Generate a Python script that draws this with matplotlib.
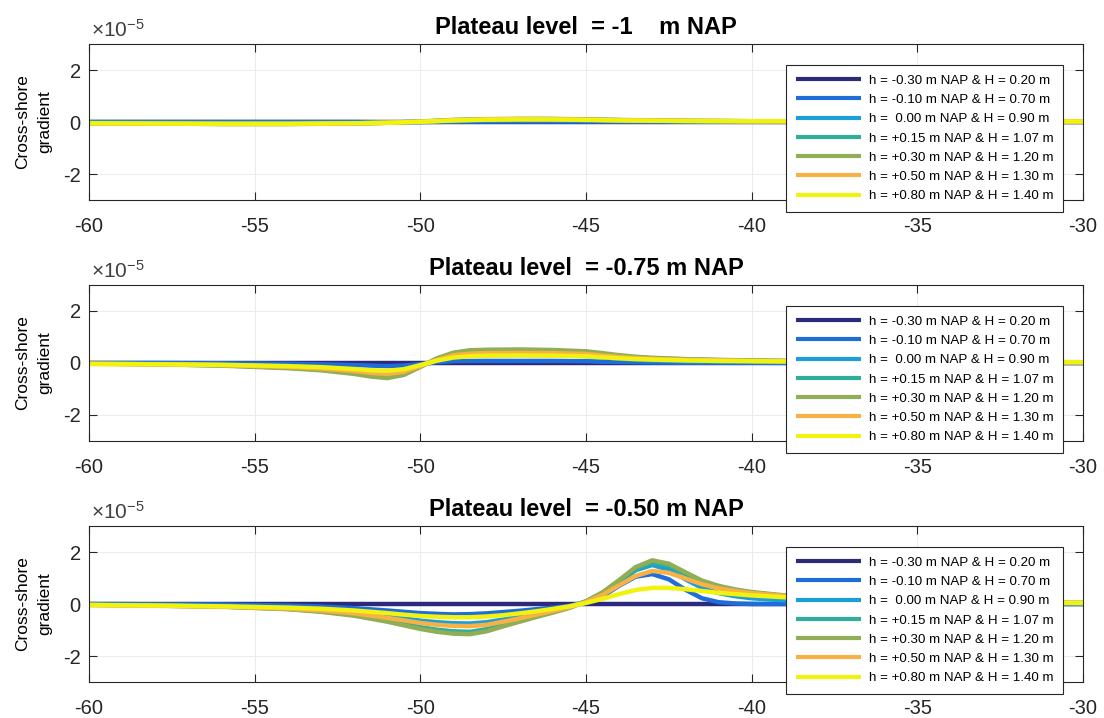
import matplotlib
matplotlib.use("Agg")
import matplotlib.pyplot as plt

plt.rcParams['font.family'] = ['Liberation Sans', 'DejaVu Sans']
plt.rcParams['mathtext.fontset'] = 'custom'
plt.rcParams['mathtext.rm'] = 'Liberation Sans'
plt.rcParams['mathtext.it'] = 'Liberation Sans:italic'
plt.rcParams['mathtext.bf'] = 'Liberation Sans:bold'

labels = ["h = -0.30 m NAP & H = 0.20 m",
          "h = -0.10 m NAP & H = 0.70 m",
          "h =  0.00 m NAP & H = 0.90 m",
          "h = +0.15 m NAP & H = 1.07 m",
          "h = +0.30 m NAP & H = 1.20 m",
          "h = +0.50 m NAP & H = 1.30 m",
          "h = +0.80 m NAP & H = 1.40 m"]
colors = ['#2b2a7c', '#1f6ed8', '#1c9fd6', '#2fae98', '#8fae55', '#f7b145', '#f2f20f']
titles = ["Plateau level  = -1    m NAP",
          "Plateau level  = -0.75 m NAP",
          "Plateau level  = -0.50 m NAP"]
xticks = [-60, -55, -50, -45, -40, -35, -30]
yticks = [-2, 0, 2]

# Panel 1 (plateau -1 m NAP), values in 1e-5
x1 = [-60, -58, -56, -54, -52, -51, -50, -49, -48, -47, -46, -45, -44, -43, -42, -40, -38, -35, -30]
p1_navy = [0] * 19
p1_blue = [0, 0, 0, 0, 0, -0.01, 0, 0.01, 0.02, 0.02, 0.02, 0.02, 0.01, 0.01, 0.01, 0.01, 0, 0, 0]
p1_lblue = [-0.02, -0.03, -0.04, -0.04, -0.03, -0.02, 0, 0.04, 0.06, 0.07, 0.07, 0.06, 0.05, 0.04, 0.03, 0.02, 0.02, 0.01, 0.01]
p1_teal = [-0.04, -0.05, -0.07, -0.07, -0.05, -0.03, 0.01, 0.07, 0.10, 0.11, 0.11, 0.09, 0.07, 0.05, 0.04, 0.03, 0.02, 0.02, 0.01]
p1_green = [-0.05, -0.06, -0.08, -0.08, -0.06, -0.03, 0.02, 0.08, 0.11, 0.12, 0.12, 0.10, 0.08, 0.06, 0.05, 0.03, 0.03, 0.02, 0.02]
p1_orange = [-0.05, -0.06, -0.07, -0.07, -0.05, -0.03, 0.01, 0.07, 0.10, 0.11, 0.10, 0.09, 0.07, 0.05, 0.04, 0.03, 0.03, 0.02, 0.02]
p1_yellow = [-0.05, -0.06, -0.07, -0.07, -0.05, -0.03, 0.01, 0.06, 0.09, 0.10, 0.10, 0.08, 0.06, 0.05, 0.04, 0.03, 0.03, 0.02, 0.02]

# Panel 2 (plateau -0.75 m NAP)
x2 = [-60, -58, -56, -54, -53, -52, -51.5, -51, -50.5, -50, -49.5, -49, -48.5, -48, -47, -46, -45,
      -44.5, -44, -43.5, -43, -42, -41, -40, -38, -35, -30]
p2_navy = [0] * 27
p2_blue = [0, 0, -0.01, -0.03, -0.05, -0.08, -0.10, -0.12, -0.10, -0.04, 0.03, 0.07, 0.08, 0.08, 0.08, 0.08, 0.07,
           0.05, 0.04, 0.03, 0.02, 0.01, 0.01, 0.01, 0, 0, 0]
p2_lblue = [-0.01, -0.03, -0.06, -0.12, -0.17, -0.25, -0.30, -0.33, -0.27, -0.10, 0.10, 0.24, 0.29, 0.30, 0.31, 0.30, 0.27,
            0.22, 0.17, 0.13, 0.10, 0.07, 0.05, 0.04, 0.03, 0.02, 0.02]
p2_teal = [-0.02, -0.05, -0.09, -0.18, -0.25, -0.38, -0.47, -0.52, -0.42, -0.14, 0.16, 0.36, 0.44, 0.46, 0.47, 0.45, 0.41,
           0.34, 0.27, 0.22, 0.18, 0.14, 0.11, 0.09, 0.06, 0.04, 0.03]
p2_green = [-0.02, -0.05, -0.10, -0.20, -0.28, -0.42, -0.52, -0.58, -0.46, -0.15, 0.18, 0.40, 0.49, 0.51, 0.52, 0.50, 0.45,
            0.38, 0.30, 0.24, 0.20, 0.15, 0.12, 0.10, 0.07, 0.04, 0.03]
p2_orange = [-0.03, -0.05, -0.08, -0.15, -0.21, -0.31, -0.38, -0.42, -0.34, -0.12, 0.12, 0.30, 0.36, 0.38, 0.39, 0.38, 0.35,
             0.29, 0.23, 0.19, 0.16, 0.12, 0.10, 0.08, 0.06, 0.04, 0.03]
p2_yellow = [-0.04, -0.05, -0.07, -0.12, -0.16, -0.23, -0.28, -0.30, -0.24, -0.08, 0.09, 0.21, 0.26, 0.28, 0.29, 0.28, 0.26,
             0.22, 0.18, 0.15, 0.13, 0.10, 0.08, 0.07, 0.05, 0.04, 0.03]

# Panel 3 (plateau -0.50 m NAP)
x3 = [-60, -58, -56, -54, -53, -52, -51, -50.5, -50, -49.5, -49, -48.5, -48, -47.5, -47, -46.5, -46, -45.5, -45,
      -44.5, -44, -43.5, -43, -42.5, -42, -41.5, -41, -40.5, -40, -39, -38, -36, -34, -32, -30]
p3_navy = [0] * 35
p3_blue = [0, -0.01, -0.02, -0.06, -0.10, -0.16, -0.25, -0.30, -0.35, -0.38, -0.40, -0.39, -0.36, -0.31, -0.26, -0.20, -0.14, -0.07, 0.05,
           0.30, 0.70, 1.05, 1.15, 0.95, 0.55, 0.22, 0.07, 0.02, 0, 0, 0, 0, 0, 0, 0]
p3_lblue = [-0.02, -0.04, -0.07, -0.14, -0.20, -0.30, -0.46, -0.55, -0.64, -0.70, -0.74, -0.75, -0.70, -0.60, -0.48, -0.36, -0.24, -0.10, 0.10,
            0.42, 0.85, 1.30, 1.50, 1.32, 0.95, 0.62, 0.42, 0.30, 0.22, 0.14, 0.10, 0.06, 0.04, 0.03, 0.02]
p3_teal = [-0.03, -0.06, -0.10, -0.19, -0.28, -0.42, -0.63, -0.76, -0.89, -0.99, -1.05, -1.07, -0.97, -0.80, -0.63, -0.46, -0.30, -0.13, 0.10,
           0.43, 0.88, 1.35, 1.60, 1.47, 1.15, 0.85, 0.66, 0.53, 0.44, 0.31, 0.23, 0.12, 0.08, 0.05, 0.04]
p3_green = [-0.03, -0.06, -0.10, -0.20, -0.30, -0.45, -0.68, -0.82, -0.96, -1.07, -1.14, -1.16, -1.05, -0.86, -0.68, -0.50, -0.33, -0.15, 0.10,
            0.45, 0.92, 1.42, 1.68, 1.55, 1.22, 0.90, 0.70, 0.56, 0.46, 0.33, 0.24, 0.13, 0.08, 0.05, 0.04]
p3_orange = [-0.04, -0.07, -0.10, -0.18, -0.25, -0.36, -0.53, -0.63, -0.73, -0.80, -0.84, -0.85, -0.80, -0.68, -0.55, -0.41, -0.27, -0.12, 0.08,
             0.35, 0.72, 1.08, 1.27, 1.20, 0.98, 0.76, 0.60, 0.50, 0.42, 0.31, 0.23, 0.13, 0.08, 0.05, 0.04]
p3_yellow = [-0.04, -0.06, -0.09, -0.14, -0.18, -0.25, -0.35, -0.41, -0.46, -0.49, -0.51, -0.51, -0.48, -0.43, -0.36, -0.28, -0.19, -0.09, 0.04,
             0.20, 0.38, 0.54, 0.62, 0.62, 0.57, 0.50, 0.43, 0.38, 0.33, 0.26, 0.20, 0.12, 0.08, 0.05, 0.04]

panels = [
    (x1, [p1_navy, p1_blue, p1_lblue, p1_teal, p1_green, p1_orange, p1_yellow]),
    (x2, [p2_navy, p2_blue, p2_lblue, p2_teal, p2_green, p2_orange, p2_yellow]),
    (x3, [p3_navy, p3_blue, p3_lblue, p3_teal, p3_green, p3_orange, p3_yellow]),
]

W, H = 1104, 718
fig = plt.figure(figsize=(W / 100, H / 100), dpi=100)
tops = [44, 285, 526]
axh = 156
left, right = 89, 1083
edge = '#262626'

for i, (xs, series) in enumerate(panels):
    ax = fig.add_axes([left / W, (H - tops[i] - axh) / H, (right - left) / W, axh / H])
    for ys, c, lab in zip(series, colors, labels):
        ax.plot(xs, ys, color=c, lw=3.2, label=lab, solid_capstyle='butt',
                solid_joinstyle='round')
    ax.set_xlim(-60, -30)
    ax.set_ylim(-3, 3)
    ax.set_xticks(xticks)
    ax.set_yticks(yticks)
    ax.set_xticklabels([str(t) for t in xticks])
    ax.set_yticklabels([str(t) for t in yticks])
    ax.grid(True, color='#ebebeb', lw=0.7)
    ax.set_axisbelow(True)
    ax.tick_params(direction='in', top=True, right=True, length=6, width=0.8,
                   labelsize=14.5, colors=edge)
    ax.tick_params(axis='x', pad=12)
    ax.tick_params(axis='y', pad=6)
    for s in ax.spines.values():
        s.set_color(edge)
        s.set_linewidth(0.8)
    ax.set_title(titles[i], fontsize=17, fontweight='bold', pad=7)
    ax.text(0.002, 1.02, r'$\times10^{-5}$', transform=ax.transAxes, fontsize=15,
            color='#404040', ha='left', va='bottom')
    ax.set_ylabel('Cross-shore\ngradient', fontsize=12.5, labelpad=8, linespacing=1.55)
    leg = ax.legend(loc='upper right', bbox_to_anchor=(0.980, 0.865), fontsize=9.6,
                    handlelength=4.9, handletextpad=0.6, labelspacing=0.52,
                    borderpad=0.7, borderaxespad=0, frameon=True, fancybox=False,
                    framealpha=1)
    for ln in leg.get_lines():
        ln.set_linewidth(3.0)
    leg.get_frame().set_edgecolor(edge)
    leg.get_frame().set_linewidth(0.8)

fig.savefig('out.png', dpi=100)
